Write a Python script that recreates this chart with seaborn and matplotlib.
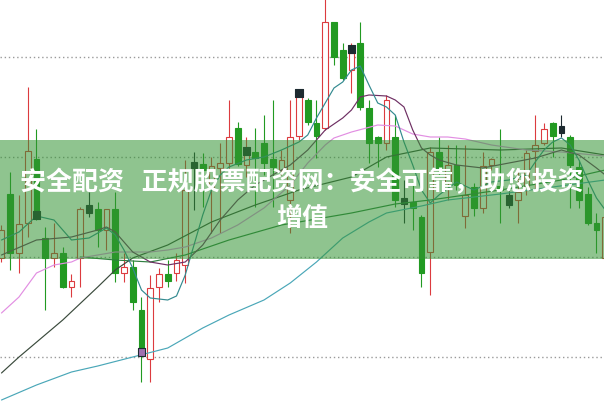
import numpy as np
import pandas as pd
import matplotlib
matplotlib.use("Agg")
import matplotlib.pyplot as plt
import seaborn as sns

# daily candles (price units, grid at 11/12/13/14)
open_ = [11.99, 12.63, 12.04, 12.34, 12.98, 12.19, 11.99, 12.04, 11.70, 11.99,
         12.52, 12.48, 12.27, 12.48, 11.84, 11.90, 11.47, 10.98, 11.70, 11.83,
         11.84, 11.92, 12.95, 12.93, 12.70, 12.89, 12.94, 13.29, 12.92, 13.05,
         13.14, 12.98, 12.87, 12.57, 13.21, 13.57, 13.34, 13.29, 14.35, 14.07,
         13.87, 14.14, 13.49, 13.20, 13.14, 13.20, 12.59, 12.55, 12.40, 12.05,
         13.05, 12.74, 12.92, 12.41, 12.70, 12.49, 12.92, 12.71, 12.62, 12.57,
         12.67, 13.06, 13.14, 13.34, 13.31, 13.20, 12.90, 12.63, 12.34, 11.99]
close = [12.27, 12.04, 12.33, 13.06, 12.40, 11.99, 12.04, 11.70, 11.76, 12.48,
         12.44, 12.27, 12.48, 11.84, 11.90, 11.55, 11.07, 11.69, 11.83, 11.76,
         11.97, 12.67, 12.89, 12.87, 12.91, 12.94, 13.20, 12.93, 13.07, 12.99,
         12.94, 12.90, 12.97, 13.20, 13.62, 13.35, 13.21, 14.35, 14.00, 13.79,
         14.04, 13.50, 13.14, 13.14, 13.57, 12.57, 12.53, 12.49, 11.84, 13.05,
         12.87, 12.92, 12.72, 12.62, 12.49, 12.91, 12.98, 12.67, 12.52, 12.65,
         13.04, 13.12, 13.28, 13.21, 13.24, 12.92, 12.57, 12.34, 12.27, 12.40]
high = [12.32, 12.85, 12.62, 13.70, 13.28, 12.30, 12.34, 12.10, 11.83, 12.50,
        12.65, 12.55, 12.48, 12.65, 12.04, 11.97, 11.60, 11.82, 11.89, 11.97,
        12.04, 12.97, 13.05, 13.04, 13.00, 13.14, 13.57, 13.35, 13.20, 13.29,
        13.42, 13.57, 13.07, 13.57, 13.67, 13.59, 13.57, 14.62, 14.35, 14.14,
        14.14, 14.35, 13.57, 13.21, 13.62, 13.42, 12.77, 12.77, 12.42, 13.10,
        13.20, 13.12, 13.12, 13.12, 12.74, 13.05, 12.99, 13.28, 12.67, 12.87,
        13.07, 13.42, 13.34, 13.35, 13.42, 13.22, 12.97, 12.70, 12.44, 12.42]
low = [11.95, 11.87, 11.84, 12.20, 12.37, 11.47, 11.90, 11.69, 11.60, 11.70,
       12.40, 12.10, 12.07, 11.75, 11.75, 11.47, 10.75, 10.75, 11.55, 11.70,
       11.76, 11.74, 12.47, 12.50, 12.24, 12.24, 12.87, 12.91, 12.80, 12.50,
       12.82, 12.50, 12.82, 12.24, 13.17, 13.32, 12.99, 13.27, 13.92, 13.77,
       13.64, 13.47, 12.94, 12.90, 13.07, 12.50, 12.34, 12.27, 11.70, 11.62,
       12.82, 12.57, 12.67, 12.29, 12.41, 12.44, 12.87, 12.34, 12.49, 12.34,
       12.62, 12.67, 13.12, 13.00, 13.20, 12.49, 12.49, 12.32, 12.04, 11.97]
dark_days = [10, 22, 46, 58, 64]

# little signal squares
signal_day = [4, 16, 28, 34, 40]
signal_price = [12.42, 11.05, 13.06, 13.64, 14.08]

# moving average lines, read at a few days
ma5_day = [0, 2, 4, 6, 8, 10, 12, 13, 14, 15, 16, 17, 19, 20, 21, 22, 23, 24, 25, 26,
           28, 30, 32, 34, 35, 36, 37, 38, 39, 40, 41, 42, 43, 44, 45, 46, 47, 48, 49,
           50, 52, 54, 56, 58, 60, 61, 62, 63, 64, 65, 66, 67, 68, 69]
ma5_val = [12.17, 12.25, 12.41, 12.37, 12.17, 12.19, 12.29, 12.22, 12.07, 11.89,
           11.67, 11.59, 11.57, 11.61, 11.82, 12.12, 12.42, 12.67, 12.82, 12.90,
           12.97, 13.00, 13.07, 13.15, 13.22, 13.39, 13.54, 13.69, 13.75, 13.87,
           13.91, 13.72, 13.54, 13.50, 13.42, 13.15, 12.92, 12.67, 12.54, 12.62,
           12.75, 12.67, 12.75, 12.77, 12.82, 12.95, 13.07, 13.15, 13.19, 13.12,
           12.97, 12.77, 12.59, 12.47]
ma10_day = [0, 4, 8, 11, 12, 13, 15, 17, 19, 21, 23, 25, 27, 29, 31, 33, 35, 37, 39,
            40, 41, 42, 44, 45, 46, 47, 48, 49, 50, 52, 55, 58, 61, 64, 66, 68, 69]
ma10_val = [12.02, 12.17, 12.20, 12.27, 12.30, 12.25, 12.05, 11.95, 11.92, 11.95,
            12.12, 12.37, 12.57, 12.72, 12.82, 12.92, 13.07, 13.27, 13.39, 13.47,
            13.60, 13.62, 13.61, 13.57, 13.50, 13.27, 13.09, 13.02, 12.97, 12.92,
            12.89, 12.94, 12.99, 13.07, 13.02, 12.89, 12.82]
ma20_day = [0, 2, 4, 6, 8, 9, 11, 13, 15, 17, 19, 21, 24, 27, 30, 33, 35, 37, 38,
            40, 43, 45, 47, 49, 51, 53, 56, 60, 64, 69]
ma20_val = [11.44, 11.60, 11.84, 11.92, 11.95, 11.99, 12.02, 12.05, 12.05, 12.05,
            12.07, 12.10, 12.19, 12.32, 12.49, 12.72, 12.94, 13.12, 13.19,
            13.25, 13.32, 13.31, 13.23, 13.20, 13.20, 13.18, 13.12, 13.07, 13.05, 13.01]
ma30_day = [0, 2, 7, 11, 13, 15, 19, 24, 29, 34, 40, 44, 49, 57, 64, 69]
ma30_val = [10.84, 11.00, 11.37, 11.70, 11.87, 11.99, 12.12, 12.35, 12.52, 12.67,
            12.80, 13.00, 13.09, 13.07, 13.09, 13.02]
ma60_day = [9, 13, 17, 21, 26, 32, 40, 45, 49, 57, 64, 69]
ma60_val = [12.00, 11.97, 11.95, 12.02, 12.17, 12.32, 12.44, 12.53, 12.57, 12.67,
            12.77, 12.87]
ma120_day = [0, 4, 8, 11, 15, 19, 23, 26, 30, 33, 36, 39, 42, 44, 48, 51, 57, 63, 69]
ma120_val = [10.57, 10.72, 10.85, 10.91, 11.00, 11.09, 11.29, 11.42, 11.57, 11.74,
             11.95, 12.19, 12.35, 12.44, 12.51, 12.57, 12.63, 12.70, 12.77]

grid_prices = [11.0, 12.0, 13.0, 14.0]
band_low, band_high = 11.98, 13.17
title_line1 = "安全配资   正规股票配资网：安全可靠，助您投资"
title_line2 = "增值"

sns.set_theme(style="white")
plt.rcParams['font.family'] = ['Noto Sans CJK SC', 'DejaVu Sans']

df = pd.DataFrame({'open': open_, 'close': close, 'high': high, 'low': low})
df['day'] = np.arange(len(df))
df['kind'] = np.where(df['close'] >= df['open'], 'up', 'down')
df.loc[dark_days, 'kind'] = 'dark'

red = '#dc3b3f'
green = '#229a22'
dark = '#1d2a30'
wick_col = {'up': red, 'down': green, 'dark': dark}
face_col = {'up': 'white', 'down': green, 'dark': dark}

fig = plt.figure(figsize=(6.04, 4.01), dpi=100)
ax = fig.add_axes([0, 0, 1, 1])

for p in grid_prices:
    ax.axhline(p, color='#9a9a9a', lw=1.0, ls=(0, (1, 2)), zorder=1)

ax.vlines(df['day'], df['low'], df['high'],
          colors=[wick_col[k] for k in df['kind']], lw=0.8, zorder=2)
bottom = df[['open', 'close']].min(axis=1)
height = (df['close'] - df['open']).abs().clip(lower=0.04)
ax.bar(df['day'], height, bottom=bottom, width=0.68,
       color=[face_col[k] for k in df['kind']],
       edgecolor=[wick_col[k] for k in df['kind']], linewidth=0.8, zorder=3)

lines = [
    (ma120_day, ma120_val, '#4aa7b8'),
    (ma60_day, ma60_val, '#2f7f40'),
    (ma30_day, ma30_val, '#3a4a3c'),
    (ma20_day, ma20_val, '#e28ee2'),
    (ma10_day, ma10_val, '#6e2f63'),
    (ma5_day, ma5_val, '#338a90'),
]
for d, v, c in lines:
    sns.lineplot(x=d, y=v, ax=ax, color=c, lw=0.85, zorder=4)

ax.scatter(signal_day, signal_price, marker='s', s=26,
           c=[dark, '#a070b0', dark, dark, dark], edgecolors=dark,
           linewidths=0.8, zorder=5)

ax.axhspan(band_low, band_high, color='#339433', alpha=0.55, lw=0, zorder=6)

ax.set_xlim(-0.171, 68.86)
ax.set_ylim(10.56, 14.57)
ax.axis('off')

fig.text(302 / 604, 1 - 183 / 401, title_line1, color='white', fontsize=18.7,
         fontweight='bold', ha='center', va='center', zorder=7)
fig.text(302 / 604, 1 - 218 / 401, title_line2, color='white', fontsize=18.7,
         fontweight='bold', ha='center', va='center', zorder=7)

fig.savefig('out.png', dpi=100)
